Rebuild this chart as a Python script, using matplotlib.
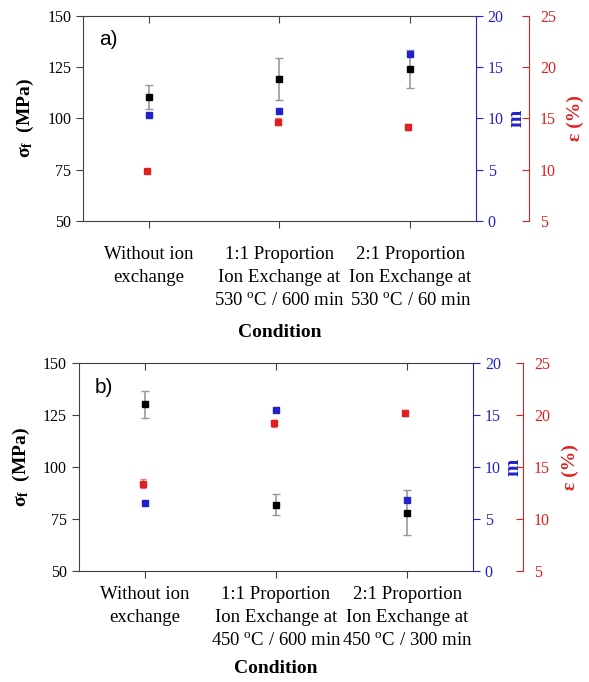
import matplotlib
matplotlib.use("Agg")
import matplotlib.pyplot as plt
import numpy as np

plt.rcParams['font.family'] = ['Liberation Serif', 'DejaVu Serif']
plt.rcParams['mathtext.fontset'] = 'custom'
plt.rcParams['mathtext.rm'] = 'Liberation Serif'
plt.rcParams['mathtext.it'] = 'Liberation Serif:italic'
plt.rcParams['mathtext.bf'] = 'Liberation Serif:bold'

labels_a = ["Without ion\nexchange",
            "1:1 Proportion\nIon Exchange at\n530 $^{\\mathregular{o}}$C / 600 min",
            "2:1 Proportion\nIon Exchange at\n530 $^{\\mathregular{o}}$C / 60 min"]
labels_b = ["Without ion\nexchange",
            "1:1 Proportion\nIon Exchange at\n450 $^{\\mathregular{o}}$C / 600 min",
            "2:1 Proportion\nIon Exchange at\n450 $^{\\mathregular{o}}$C / 300 min"]

# flexural strength (MPa) and std dev
sigma_a = [110.5, 119.2, 124.0]
sigma_err_a = [5.7, 10.2, 9.3]
sigma_b = [130.2, 81.8, 78.0]
sigma_err_b = [6.6, 5.0, 10.7]

# Weibull modulus
m_a = [10.3, 10.7, 16.3]
m_b = [6.5, 15.5, 6.8]

# strain (%) and std dev
eps_a = [9.9, 14.7, 14.2]
eps_err_a = [0.2, 0.35, 0.3]
eps_b = [13.4, 19.2, 20.2]
eps_err_b = [0.4, 0.35, 0.3]

BLUE = '#2222cc'
RED = '#e02020'
GREY = '#404040'


def draw_panel(fig, rect, tag, labels, sigma, sigma_err, m, eps, eps_err,
               offset, tick_pad, xlabel_pad):
    ax = fig.add_axes(rect)
    x = np.arange(len(labels))

    ax.set_xlim(-0.5, 2.5)
    ax.set_ylim(50, 150)
    ax.set_yticks([50, 75, 100, 125, 150])
    ax.set_xticks(x)
    ax.set_xticklabels(labels, fontsize=13.5, linespacing=1.45)
    ax.tick_params(axis='x', direction='out', length=5, pad=tick_pad,
                   colors=GREY, labelcolor='black')
    ax.tick_params(axis='y', direction='out', length=5, labelsize=11.5,
                   colors=GREY, labelcolor='black')
    top = ax.secondary_xaxis('top')
    top.set_xticks(x)
    top.set_xticklabels([])
    top.tick_params(direction='in', length=5, colors=GREY)
    top.spines['top'].set_visible(False)
    for s in ['left', 'bottom', 'top']:
        ax.spines[s].set_color(GREY)
    ax.spines['right'].set_visible(False)

    ax.set_ylabel(r'$\mathbf{\sigma_f}$  (MPa)', fontsize=14, fontweight='bold',
                  labelpad=8)
    ax.set_xlabel('Condition', fontsize=14, fontweight='bold',
                  labelpad=xlabel_pad)
    ax.text(0.04, 0.93, tag, transform=ax.transAxes, fontsize=15,
            family='Liberation Sans', va='top', ha='left')

    ax_m = ax.twinx()
    ax_m.set_ylim(0, 20)
    ax_m.set_yticks([0, 5, 10, 15, 20])
    ax_m.tick_params(axis='y', direction='out', length=5, labelsize=11.5,
                     colors=BLUE)
    for s in ['left', 'bottom', 'top']:
        ax_m.spines[s].set_visible(False)
    ax_m.spines['right'].set_color(BLUE)
    ax_m.set_ylabel('m', fontsize=15, fontweight='bold', color=BLUE, labelpad=2)

    ax_e = ax.twinx()
    ax_e.set_ylim(5, 25)
    ax_e.set_yticks([5, 10, 15, 20, 25])
    ax_e.spines['right'].set_position(('outward', offset))
    ax_e.spines['right'].set_color(RED)
    for s in ['left', 'bottom', 'top']:
        ax_e.spines[s].set_visible(False)
    ax_e.tick_params(axis='y', direction='in', length=5, labelsize=11.5,
                     colors=RED, pad=8)
    ax_e.set_ylabel('ε (%)', fontsize=14, fontweight='bold', color=RED,
                    labelpad=8)

    ax_e.errorbar(x - 0.015, eps, yerr=eps_err, fmt='s', color=RED, ms=4.5,
                  ecolor='#e08080', elinewidth=1, capsize=2.5, zorder=3)
    ax_m.plot(x, m, 's', color=BLUE, ms=4, zorder=3)
    ax.errorbar(x, sigma, yerr=sigma_err, fmt='s', color='black', ms=4,
                ecolor='#999999', elinewidth=1.2, capsize=3, zorder=3)
    return ax


fig = plt.figure(figsize=(5.89, 6.82), dpi=100)

# red spine offsets are in points (53 px and 50 px at 100 dpi)
draw_panel(fig, [0.141, 0.676, 0.667, 0.3006], 'a)', labels_a,
           sigma_a, sigma_err_a, m_a, eps_a, eps_err_a, 38, 13, 11)
draw_panel(fig, [0.134, 0.1632, 0.669, 0.304], 'b)', labels_b,
           sigma_b, sigma_err_b, m_b, eps_b, eps_err_b, 36, 6, 8)

fig.savefig('out.png', dpi=100)
